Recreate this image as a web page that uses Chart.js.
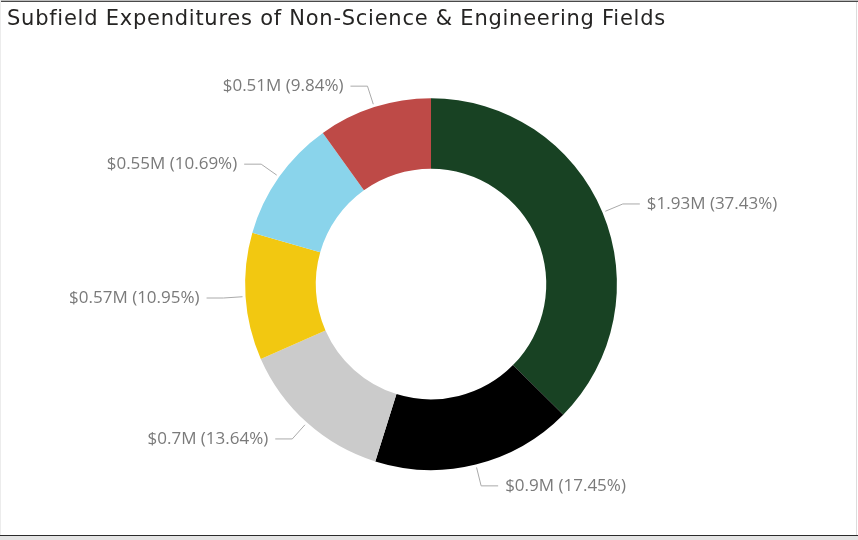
<!DOCTYPE html>
<html>
<head>
<meta charset="utf-8">
<title>Subfield Expenditures of Non-Science &amp; Engineering Fields</title>
<script src="https://cdn.jsdelivr.net/npm/chart.js@4/dist/chart.umd.min.js"></script>
<style>
  html, body { margin: 0; padding: 0; background: #fff; }
  #wrap { position: relative; width: 858px; height: 540px; overflow: hidden; }
  #chart { position: absolute; left: 0; top: 0; }
  .ln { position: absolute; }
</style>
</head>
<body>
<div id="wrap">
  <canvas id="chart" width="858" height="540"></canvas>
  <div class="ln" style="left:0;top:0;width:858px;height:1px;background:#bdbdbd"></div>
  <div class="ln" style="left:0;top:1px;width:858px;height:1px;background:#4a4a4a"></div>
  <div class="ln" style="left:0;top:0;width:1px;height:536px;background:#ececec"></div>
  <div class="ln" style="left:856px;top:2px;width:1px;height:534px;background:#dcdcdc"></div>
  <div class="ln" style="left:0;top:535px;width:858px;height:1px;background:#2b2b2b"></div>
  <div class="ln" style="left:0;top:536px;width:858px;height:4px;background:#e4e4e4"></div>
</div>
<script>
// -------------------- data --------------------//
var subfields = ["Subfield 1", "Subfield 2", "Subfield 3", "Subfield 4", "Subfield 5", "Subfield 6"];
var amounts = [1.93, 0.90, 0.70, 0.57, 0.55, 0.51];            // $M
var amountLabels = ["$1.93M", "$0.9M", "$0.7M", "$0.57M", "$0.55M", "$0.51M"];
var pctLabels = ["37.43%", "17.45%", "13.64%", "10.95%", "10.69%", "9.84%"];
var sliceColors = ["#184223", "#000000", "#cbcbcb", "#f2c811", "#8ad4eb", "#be4a47"];

// wider tracking for the title only (DIN-like look)
var titleSpacing = {
    id: 'titleSpacing',
    beforeDraw: function (chart) { chart.ctx.letterSpacing = '0.75px'; },
    beforeDatasetsDraw: function (chart) { chart.ctx.letterSpacing = '0px'; }
};

// outside labels with leader lines
var leaderLabels = {
    id: 'leaderLabels',
    afterDatasetsDraw: function (chart) {
        var ctx = chart.ctx;
        var arcs = chart.getDatasetMeta(0).data;
        ctx.save();
        ctx.letterSpacing = '0px';
        ctx.font = '17px "Open Sans", "Segoe UI", sans-serif';
        ctx.textBaseline = 'middle';
        arcs.forEach(function (arc, i) {
            var mid = (arc.startAngle + arc.endAngle) / 2;
            var cx = arc.x, cy = arc.y, r = arc.outerRadius;
            var cos = Math.cos(mid), sin = Math.sin(mid);
            var side = cos >= 0 ? 1 : -1;
            var x0 = cx + (r + 3) * cos, y0 = cy + (r + 3) * sin;
            var x1 = cx + (r + 22) * cos, y1 = cy + (r + 22) * sin;
            var x2 = x1 + side * 17;
            ctx.strokeStyle = '#aaaaaa';
            ctx.lineWidth = 1;
            ctx.beginPath();
            ctx.moveTo(x0, y0);
            ctx.lineTo(x1, y1);
            ctx.lineTo(x2, y1);
            ctx.stroke();
            ctx.fillStyle = '#7a7a7a';
            ctx.textAlign = side > 0 ? 'left' : 'right';
            ctx.fillText(amountLabels[i] + ' (' + pctLabels[i] + ')', x2 + side * 7, y1);
        });
        ctx.restore();
    }
};

var ctx = document.querySelector('#chart').getContext('2d');
var chart = new Chart(ctx, {
    type: 'doughnut',
    data: {
        labels: subfields,
        datasets: [{
            data: amounts,
            backgroundColor: sliceColors,
            borderWidth: 0
        }]
    },
    options: {
        responsive: false,
        animation: false,
        cutout: '62%',
        layout: { padding: { left: 7, right: 3, top: 0, bottom: 70 } },
        plugins: {
            legend: { display: false },
            tooltip: { enabled: false },
            title: {
                display: true,
                text: 'Subfield Expenditures of Non-Science & Engineering Fields',
                align: 'start',
                color: '#252423',
                font: { family: '"DejaVu Sans", sans-serif', size: 21, weight: 'normal' },
                padding: { top: 7, bottom: 66 }
            }
        }
    },
    plugins: [titleSpacing, leaderLabels]
});
</script>
</body>
</html>
